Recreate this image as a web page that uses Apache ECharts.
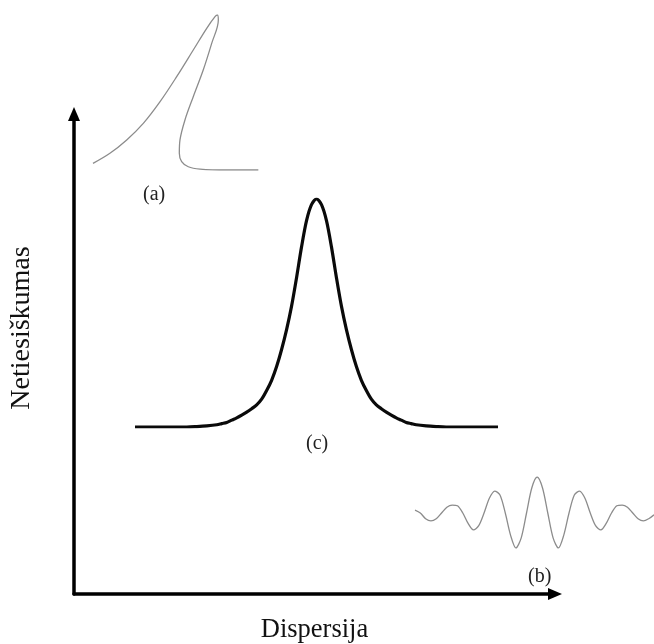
<!DOCTYPE html>
<html>
<head>
<meta charset="utf-8">
<script src="https://cdn.jsdelivr.net/npm/echarts@6/dist/echarts.min.js"></script>
<style>html,body{margin:0;padding:0;background:#fff}#chart{width:654px;height:644px}</style>
</head>
<body>
<div id="chart"></div>
<script>
// ---- texts ----
const xAxisName = 'Dispersija';
const yAxisName = 'Netiesiškumas';
const panelLabels = ['(a)', '(b)', '(c)'];

// ---- curve (a): skewed, folded-back peak (parametric: x, y in drawing order) ----
const curveAX = [0.0, 1.02, 2.03, 3.03, 4.04, 5.04, 6.04, 6.85, 7.35, 7.49, 7.55, 7.15, 6.64, 6.04, 5.54, 5.24, 5.2, 5.34, 5.74, 6.45, 8.05, 9.96];
const curveAY = [0.43, 1.08, 1.94, 3.01, 4.41, 6.02, 7.74, 9.14, 9.89, 10.0, 9.68, 8.17, 6.45, 4.73, 3.23, 1.94, 1.08, 0.54, 0.21, 0.06, 0.0, 0.0];

// ---- curve (b): oscillating wave packet (period = 1 unit) ----
const curveBX = [-2.875, -2.75, -2.625, -2.5, -2.375, -2.25, -2.125, -2.0, -1.875, -1.75, -1.625, -1.5, -1.375, -1.25, -1.125, -1.0, -0.875, -0.75, -0.625, -0.5, -0.375, -0.25, -0.125, 0.0,
                 0.125, 0.25, 0.375, 0.5, 0.625, 0.75, 0.875, 1.0, 1.125, 1.25, 1.375, 1.5, 1.625, 1.75, 1.875, 2.0, 2.125, 2.25, 2.375, 2.5, 2.625, 2.75];
const curveBY = [0.08, 0.0, -0.16, -0.22, -0.16, 0.0, 0.16, 0.22, 0.2, 0.0, -0.29, -0.47, -0.35, 0.0, 0.41, 0.61, 0.5, 0.0, -0.62, -0.97, -0.69, 0.0, 0.7, 1.0,
                 0.7, 0.0, -0.69, -0.97, -0.62, 0.0, 0.5, 0.61, 0.41, 0.0, -0.35, -0.47, -0.29, 0.0, 0.2, 0.22, 0.16, 0.0, -0.16, -0.22, -0.16, -0.05];

// ---- curve (c): symmetric bell-shaped peak ----
const curveCX = [-18.2, -15, -13, -12, -11, -10, -9.5, -9, -8.5, -8, -7.5, -7, -6.5, -6, -5.5, -5, -4.5, -4, -3.5, -3, -2.5, -2, -1.5, -1, -0.5, 0,
                 0.5, 1, 1.5, 2, 2.5, 3, 3.5, 4, 4.5, 5, 5.5, 6, 6.5, 7, 7.5, 8, 8.5, 9, 9.5, 10, 11, 12, 13, 15, 18.2];
const curveCY = [0, 0, 0, 0.002, 0.005, 0.01, 0.015, 0.02, 0.03, 0.04, 0.052, 0.065, 0.08, 0.097, 0.122, 0.16, 0.205, 0.265, 0.34, 0.427, 0.53, 0.655, 0.79, 0.905, 0.975, 1.0,
                 0.975, 0.905, 0.79, 0.655, 0.53, 0.427, 0.34, 0.265, 0.205, 0.16, 0.122, 0.097, 0.08, 0.065, 0.052, 0.04, 0.03, 0.02, 0.015, 0.01, 0.005, 0.002, 0, 0, 0];

function pairs(xs, ys) { return xs.map((x, i) => [x, ys[i]]); }

const serif = '"Liberation Serif", "DejaVu Serif", serif';
const hiddenAxis = (min, max, gi) => ({ type: 'value', gridIndex: gi, min: min, max: max, show: false });
const gridBase = { containLabel: false, outerBoundsMode: 'none' };

const chart = echarts.init(document.getElementById('chart'), null, { renderer: 'canvas' });
chart.setOption({
  animation: false,
  backgroundColor: '#ffffff',
  grid: [
    Object.assign({ left: 74, top: 114, width: 481, height: 480 }, gridBase),   // main axes
    Object.assign({ left: 93, top: 15, width: 166, height: 155 }, gridBase),    // (a)
    Object.assign({ left: 415, top: 477, width: 239, height: 72 }, gridBase),   // (b)
    Object.assign({ left: 135, top: 199, width: 363, height: 228 }, gridBase)   // (c)
  ],
  xAxis: [
    {
      type: 'value', gridIndex: 0, min: 0, max: 1,
      name: xAxisName, nameLocation: 'middle', nameGap: 23,
      nameTextStyle: { fontFamily: serif, fontSize: 26.5, color: '#111' },
      axisLine: { show: true, onZero: false, symbol: ['none', 'triangle'], symbolSize: [12, 14],
        lineStyle: { color: '#000', width: 3.5 } },
      axisTick: { show: false }, axisLabel: { show: false }, splitLine: { show: false }
    },
    hiddenAxis(0, 10, 1),
    hiddenAxis(-2.875, 2.75, 2),
    hiddenAxis(-18.2, 18.2, 3)
  ],
  yAxis: [
    {
      type: 'value', gridIndex: 0, min: 0, max: 1,
      name: yAxisName, nameLocation: 'middle', nameGap: 38,
      nameTextStyle: { fontFamily: serif, fontSize: 28, color: '#111', padding: [0, 0, 0, 52] },
      axisLine: { show: true, onZero: false, symbol: ['none', 'triangle'], symbolSize: [12, 14],
        lineStyle: { color: '#000', width: 3.5 } },
      axisTick: { show: false }, axisLabel: { show: false }, splitLine: { show: false }
    },
    hiddenAxis(0, 10, 1),
    hiddenAxis(-1, 1, 2),
    hiddenAxis(0, 1, 3)
  ],
  series: [
    {
      name: 'a', type: 'line', xAxisIndex: 1, yAxisIndex: 1,
      data: pairs(curveAX, curveAY), smooth: 0.35, showSymbol: false,
      lineStyle: { color: '#8c8c8c', width: 1.3 }
    },
    {
      name: 'b', type: 'line', xAxisIndex: 2, yAxisIndex: 2,
      data: pairs(curveBX, curveBY), smooth: 0.3, showSymbol: false,
      lineStyle: { color: '#8c8c8c', width: 1.3 }
    },
    {
      name: 'c', type: 'line', xAxisIndex: 3, yAxisIndex: 3,
      data: pairs(curveCX, curveCY), smooth: 0.3, showSymbol: false,
      lineStyle: { color: '#0a0a0a', width: 3.2 }
    }
  ],
  graphic: [
    { type: 'text', left: 143, top: 185, style: { text: panelLabels[0], font: '20px ' + serif, fill: '#222' } },
    { type: 'text', left: 528, top: 567, style: { text: panelLabels[1], font: '20px ' + serif, fill: '#222' } },
    { type: 'text', left: 306, top: 434, style: { text: panelLabels[2], font: '20px ' + serif, fill: '#222' } }
  ]
});
</script>
</body>
</html>
